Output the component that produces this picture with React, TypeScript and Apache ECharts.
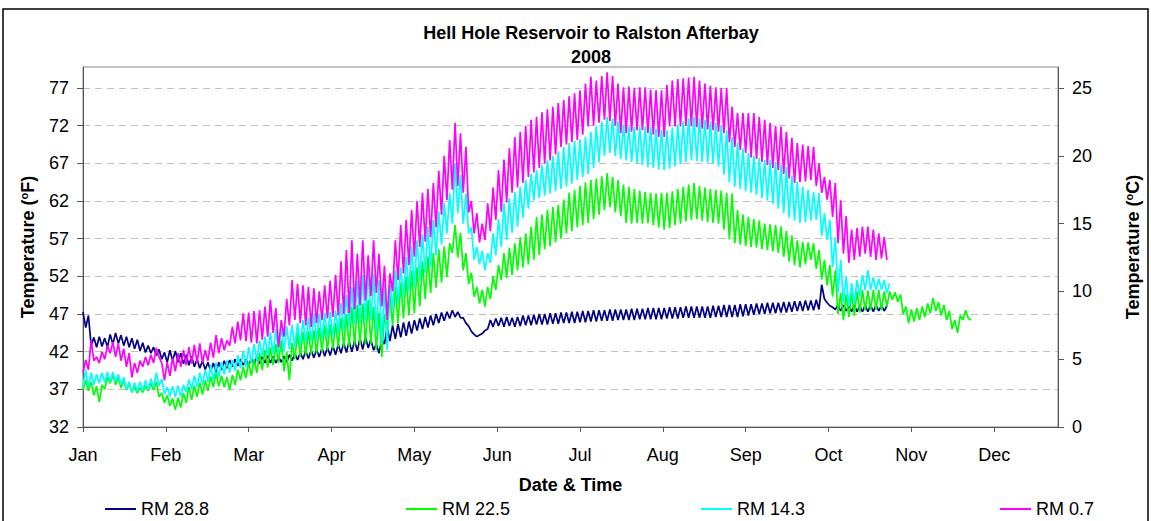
import React, { useEffect, useRef } from "react";
import * as echarts from "echarts";

// ---------- data (°F, one value per day from Jan 1) ----------
const SERIES_NAMES = ["RM 28.8", "RM 22.5", "RM 14.3", "RM 0.7"];
const SERIES_COLORS = ["#000080", "#00FF00", "#00FFFF", "#FF00FF"];
const MONTHS = ["Jan", "Feb", "Mar", "Apr", "May", "Jun", "Jul", "Aug", "Sep", "Oct", "Nov", "Dec"];
const MONTH_TICKS = [0, 30.5, 61, 91.5, 122, 152.5, 183, 213.5, 244, 274.5, 305, 335.5];
const F_TICKS = [32, 37, 42, 47, 52, 57, 62, 67, 72, 77];
const C_TICKS = [0, 5, 10, 15, 20, 25];

const RM_28_8 = [
  47.3, 45.2, 46.8, 42.8, 43.9, 42.6, 44.0, 42.7, 43.8, 42.6,
  44.3, 43.0, 44.5, 43.1, 44.2, 42.8, 44.0, 42.6, 43.8, 42.4,
  43.6, 42.1, 43.2, 41.9, 42.8, 41.8, 42.6, 41.5, 42.3, 41.0,
  41.9, 40.6, 42.2, 40.8, 42.1, 40.6, 41.8, 40.4, 41.6, 40.2,
  41.4, 40.0, 41.0, 39.8, 40.8, 39.6, 40.6, 39.4, 40.5, 39.3,
  40.6, 39.6, 40.8, 39.8, 40.9, 40.0, 41.0, 40.1, 41.0, 40.2,
  41.0, 40.2, 41.1, 40.3, 41.3, 40.4, 41.4, 40.5, 41.5, 40.5,
  41.4, 40.5, 41.3, 40.6, 41.4, 40.6, 41.6, 40.8, 41.8, 40.9,
  41.9, 41.0, 42.1, 41.1, 42.2, 41.2, 42.3, 41.3, 42.5, 41.4,
  42.6, 41.5, 42.8, 41.6, 43.0, 41.8, 43.2, 41.9, 43.4, 42.0,
  43.5, 42.1, 43.8, 42.3, 44.0, 42.5, 43.6, 42.2, 43.0, 41.8,
  43.6, 43.0, 45.3, 43.4, 45.5, 43.7, 45.7, 43.9, 45.9, 44.1,
  46.0, 44.4, 46.2, 44.8, 46.4, 45.0, 46.6, 45.2, 46.8, 45.5,
  47.0, 45.8, 47.2, 46.1, 47.3, 46.4, 47.5, 46.6, 47.3, 46.5,
  46.5, 45.8, 45.4, 44.7, 44.3, 44.0, 44.2, 44.4, 44.8, 45.0,
  46.2, 45.3, 46.4, 45.4, 46.5, 45.3, 46.6, 45.4, 46.5, 45.3,
  46.6, 45.4, 46.8, 45.5, 46.8, 45.5, 46.9, 45.6, 47.0, 45.6,
  47.0, 45.6, 47.1, 45.7, 47.1, 45.7, 47.2, 45.8, 47.2, 45.8,
  47.3, 45.8, 47.3, 45.9, 47.4, 45.9, 47.4, 46.0, 47.5, 46.0,
  47.5, 46.1, 47.5, 46.1, 47.6, 46.1, 47.6, 46.2, 47.6, 46.2,
  47.6, 46.2, 47.7, 46.2, 47.7, 46.3, 47.7, 46.3, 47.8, 46.3,
  47.8, 46.3, 47.8, 46.3, 47.8, 46.4, 47.9, 46.4, 47.9, 46.4,
  47.9, 46.5, 48.0, 46.5, 48.0, 46.5, 48.0, 46.5, 48.0, 46.5,
  48.0, 46.5, 48.1, 46.6, 48.1, 46.6, 48.2, 46.6, 48.2, 46.6,
  48.2, 46.6, 48.3, 46.7, 48.3, 46.8, 48.3, 46.9, 48.4, 47.0,
  48.4, 47.0, 48.5, 47.1, 48.5, 47.1, 48.5, 47.2, 48.6, 47.2,
  48.6, 47.3, 48.7, 47.4, 48.7, 47.4, 48.8, 47.5, 48.8, 47.5,
  48.9, 47.6, 50.9, 49.0, 48.5, 48.1, 47.9, 47.6, 48.2, 47.4,
  48.2, 47.4, 48.1, 47.3, 48.2, 47.3, 48.1, 47.3, 48.2, 47.3,
  48.2, 47.3, 48.2, 47.4, 48.2, 47.4, 48.1,
];

const RM_22_5 = [
  36.9, 38.2, 36.8, 38.0, 36.2, 37.4, 35.3, 37.6, 37.0, 38.6,
  37.8, 38.9, 37.6, 38.6, 37.2, 38.2, 36.9, 37.8, 36.6, 37.4,
  36.5, 37.2, 36.6, 37.5, 36.8, 37.8, 36.9, 38.0, 36.0, 36.5,
  35.2, 36.2, 34.8, 35.8, 34.3, 35.9, 34.6, 36.5, 35.2, 37.3,
  35.6, 37.5, 36.0, 37.9, 36.3, 38.2, 36.8, 38.7, 37.3, 39.2,
  37.4, 38.8, 37.3, 38.6, 36.9, 38.9, 37.6, 39.6, 38.2, 40.0,
  38.5, 40.6, 38.8, 41.0, 39.2, 41.8, 39.6, 42.2, 39.9, 42.6,
  40.2, 43.0, 40.5, 43.5, 39.4, 42.0, 38.2, 43.2, 41.0, 44.5,
  41.3, 44.6, 41.5, 44.7, 41.7, 44.8, 41.8, 45.2, 42.0, 45.5,
  42.2, 45.6, 42.4, 45.8, 42.6, 46.5, 42.6, 47.0, 42.6, 48.0,
  42.8, 48.2, 43.0, 48.4, 43.0, 48.9, 43.0, 48.0, 42.2, 47.2,
  41.3, 47.0, 44.5, 49.5, 45.5, 50.6, 45.8, 51.2, 46.4, 52.0,
  46.8, 52.8, 47.1, 53.2, 48.0, 54.0, 49.0, 54.6, 49.8, 55.1,
  50.5, 55.6, 51.2, 56.0, 51.9, 56.4, 55.1, 58.8, 54.5, 57.8,
  52.8, 55.1, 51.0, 52.5, 49.3, 50.6, 48.4, 50.2, 48.0, 50.6,
  49.0, 52.0, 50.2, 53.5, 51.5, 55.1, 51.8, 55.8, 52.2, 56.4,
  52.8, 57.2, 53.2, 57.7, 53.6, 58.6, 54.2, 59.9, 54.8, 60.2,
  55.6, 60.8, 56.0, 61.2, 56.5, 61.5, 57.0, 62.2, 57.7, 63.1,
  58.0, 63.5, 58.5, 64.0, 58.8, 64.5, 59.1, 64.8, 59.6, 65.0,
  60.2, 65.3, 60.8, 65.7, 61.2, 65.2, 60.5, 64.8, 60.0, 64.2,
  59.1, 63.9, 59.0, 63.6, 59.1, 63.4, 59.0, 63.2, 59.1, 63.1,
  58.8, 63.0, 58.5, 63.1, 58.2, 63.1, 58.4, 63.3, 58.8, 63.6,
  59.0, 63.9, 59.3, 64.2, 59.5, 64.4, 59.6, 64.0, 59.4, 63.8,
  59.2, 63.6, 59.1, 63.5, 59.0, 63.4, 58.2, 63.1, 56.9, 63.0,
  56.4, 60.8, 56.2, 60.2, 56.0, 59.9, 55.9, 59.6, 55.8, 59.4,
  55.6, 59.0, 55.5, 58.9, 55.3, 58.8, 55.1, 58.6, 54.6, 58.0,
  54.0, 57.4, 53.5, 56.8, 53.2, 56.6, 53.6, 56.5, 54.2, 56.4,
  53.0, 55.5, 51.6, 54.2, 50.8, 53.5, 49.3, 52.8, 47.0, 49.8,
  46.2, 49.6, 46.6, 49.8, 46.8, 50.0, 47.2, 50.2, 47.5, 50.1,
  47.5, 50.2, 47.6, 50.2, 47.5, 50.0, 48.0, 50.0, 48.9, 49.9,
  48.6, 49.6, 47.0, 48.0, 45.8, 47.6, 46.0, 47.8, 46.2, 48.0,
  46.6, 48.4, 47.1, 49.1, 47.4, 48.6, 46.8, 48.2, 46.2, 47.4,
  45.0, 46.2, 44.5, 46.8, 46.2, 47.5, 46.4, 46.2,
];

const RM_14_3 = [
  37.4, 39.6, 37.3, 39.2, 37.6, 39.0, 37.8, 39.2, 37.9, 39.3,
  38.0, 39.3, 38.0, 39.0, 37.6, 38.6, 37.0, 38.0, 36.6, 37.9,
  36.7, 38.0, 36.8, 38.2, 36.9, 38.4, 37.2, 39.2, 37.5, 38.4,
  36.4, 37.3, 36.0, 37.4, 36.0, 37.5, 36.0, 37.6, 36.6, 38.3,
  37.0, 38.8, 37.3, 39.2, 37.6, 39.6, 38.0, 40.2, 38.2, 40.5,
  38.6, 40.6, 39.0, 40.8, 39.2, 40.9, 39.5, 41.5, 39.8, 42.1,
  40.0, 42.6, 40.4, 43.0, 40.8, 43.5, 41.3, 44.0, 41.5, 44.6,
  41.7, 45.0, 41.8, 45.3, 42.0, 45.4, 42.3, 45.6, 42.6, 45.8,
  42.9, 46.2, 43.2, 46.6, 43.4, 47.1, 43.5, 47.1, 43.7, 47.2,
  43.9, 47.3, 44.0, 47.5, 44.4, 48.5, 44.8, 49.6, 45.3, 50.6,
  45.6, 51.4, 45.8, 52.2, 46.0, 53.0, 46.2, 52.4, 44.5, 51.5,
  43.0, 51.0, 42.2, 51.6, 47.5, 52.8, 48.4, 53.2, 49.2, 54.6,
  50.0, 56.0, 50.6, 56.8, 51.5, 57.6, 52.4, 58.6, 53.2, 59.5,
  54.8, 60.6, 56.2, 61.8, 57.7, 63.1, 59.0, 67.0, 60.4, 65.5,
  59.0, 63.0, 57.7, 58.5, 54.2, 55.9, 53.6, 55.4, 52.8, 55.1,
  53.8, 57.7, 54.8, 59.6, 55.9, 61.7, 56.8, 62.4, 57.8, 63.2,
  58.6, 63.9, 59.8, 64.8, 61.0, 65.6, 62.1, 66.1, 62.4, 66.8,
  62.7, 67.4, 63.0, 68.0, 63.3, 68.6, 63.6, 69.2, 63.9, 69.7,
  64.3, 70.0, 64.8, 70.2, 65.2, 70.5, 65.6, 71.2, 66.4, 72.0,
  67.2, 72.6, 68.0, 73.2, 68.4, 73.0, 68.0, 72.6, 67.6, 72.2,
  67.4, 71.9, 67.2, 71.9, 67.0, 71.9, 66.8, 71.9, 66.5, 71.9,
  66.4, 71.6, 66.2, 71.5, 66.1, 71.4, 66.3, 71.8, 66.6, 72.2,
  66.9, 72.6, 67.2, 73.0, 67.4, 73.2, 67.3, 73.0, 67.2, 72.8,
  67.1, 72.6, 67.0, 72.4, 66.6, 72.0, 65.5, 71.4, 64.5, 70.5,
  63.9, 69.8, 63.6, 69.0, 63.3, 68.4, 63.1, 68.0, 62.8, 67.7,
  62.4, 67.5, 62.1, 67.4, 61.6, 67.2, 61.0, 66.8, 60.4, 66.5,
  59.8, 65.4, 59.4, 64.6, 59.1, 63.9, 59.2, 63.5, 59.4, 63.2,
  59.5, 63.1, 57.4, 60.4, 56.8, 59.5, 53.2, 57.2, 49.8, 54.2,
  48.5, 52.0, 48.0, 51.1, 48.4, 51.5, 49.4, 52.2, 50.2, 52.8,
  50.2, 51.9, 50.2, 51.7, 50.2, 51.5, 49.8, 51.1,
];

const RM_0_7 = [
  39.2, 40.9, 39.6, 43.5, 40.8, 41.3, 40.5, 42.0, 41.0, 42.8,
  41.8, 43.3, 41.3, 43.1, 40.8, 42.4, 40.0, 41.8, 38.6, 40.5,
  39.2, 40.8, 40.0, 41.3, 40.2, 41.6, 40.5, 42.5, 41.3, 40.5,
  38.2, 40.6, 38.8, 41.2, 39.4, 41.8, 40.0, 42.2, 40.2, 42.6,
  40.4, 42.9, 40.5, 43.1, 40.5, 42.2, 40.8, 43.2, 41.2, 44.2,
  41.8, 43.8, 42.2, 43.5, 42.8, 45.3, 43.1, 46.0, 43.5, 47.1,
  43.4, 47.2, 43.2, 47.4, 43.1, 47.5, 43.6, 48.0, 44.0, 48.9,
  44.5, 47.8, 42.6, 46.2, 44.0, 49.0, 45.5, 51.5, 46.2, 51.0,
  45.8, 50.8, 45.5, 50.6, 45.3, 50.4, 45.8, 50.0, 46.2, 50.8,
  46.4, 51.4, 46.6, 52.2, 46.8, 54.0, 47.0, 55.5, 47.1, 56.8,
  47.6, 55.0, 48.2, 56.8, 48.8, 54.8, 49.4, 56.8, 49.8, 55.0,
  48.0, 53.4, 46.2, 52.4, 50.0, 56.8, 51.5, 58.8, 52.4, 59.5,
  53.5, 60.8, 54.6, 62.0, 55.9, 63.1, 56.6, 63.6, 57.2, 64.4,
  58.5, 66.0, 60.2, 68.0, 62.1, 70.1, 63.5, 72.4, 64.0, 71.0,
  63.1, 69.2, 60.5, 62.0, 57.7, 60.4, 56.5, 59.0, 56.8, 61.7,
  58.0, 63.8, 59.5, 66.1, 60.6, 67.5, 61.8, 69.0, 63.1, 70.5,
  63.8, 71.2, 64.4, 72.0, 65.2, 72.8, 65.8, 73.2, 66.4, 73.8,
  67.0, 74.2, 67.4, 74.5, 68.2, 75.0, 69.2, 75.4, 69.5, 75.9,
  69.8, 76.3, 70.1, 76.7, 70.8, 77.6, 71.9, 78.5, 72.0, 78.0,
  72.4, 78.6, 72.8, 79.1, 72.6, 78.6, 72.0, 77.6, 71.0, 77.1,
  71.0, 77.2, 71.2, 77.0, 71.4, 77.1, 71.4, 77.1, 71.0, 76.8,
  70.8, 76.7, 70.5, 76.7, 70.5, 77.4, 71.9, 78.0, 71.9, 78.2,
  71.9, 78.3, 72.0, 78.4, 71.9, 78.5, 71.8, 78.0, 71.6, 77.6,
  71.5, 77.3, 71.4, 77.1, 71.2, 77.0, 71.0, 77.0, 69.8, 74.5,
  69.2, 73.7, 68.8, 73.7, 68.4, 73.7, 67.8, 73.7, 67.6, 73.2,
  67.2, 72.8, 66.8, 72.4, 66.4, 72.0, 66.1, 71.9, 65.6, 71.2,
  65.0, 70.4, 64.4, 69.7, 64.5, 69.5, 64.6, 69.3, 64.8, 69.2,
  64.0, 67.0, 63.1, 65.2, 62.2, 64.8, 59.9, 64.4, 56.4, 62.1,
  55.0, 60.0, 53.8, 58.2, 54.2, 58.4, 54.6, 58.6, 55.0, 58.6,
  54.6, 58.2, 54.2, 57.7, 54.4, 57.2, 54.2,
];

const SERIES_VALUES = [RM_28_8, RM_22_5, RM_14_3, RM_0_7];

// ---------- layout ----------
const FONT = 'Arial, "Liberation Sans", sans-serif';
const X_MAX = 359;
const F_MIN = 32;
const F_MAX = 79.8;
const LEGEND_LEFT = [105, 406, 701, 1000];

export default function App() {
  const ref = useRef<HTMLDivElement>(null);

  useEffect(() => {
    if (!ref.current) return;
    const chart = echarts.init(ref.current, null, { renderer: "svg" });

    const nameRich = {
      sup: { fontSize: 11, fontWeight: "bold", fontFamily: FONT, color: "#000", padding: [0, 0, 9, 0] },
    };

    chart.setOption({
      animation: false,
      backgroundColor: "#fff",
      title: {
        text: "Hell Hole Reservoir to Ralston Afterbay\n2008",
        left: 591,
        top: 21,
        padding: 0,
        textAlign: "center",
        textStyle: { fontSize: 18, fontWeight: "bold", fontFamily: FONT, color: "#000", lineHeight: 24 },
      },
      grid: {
        left: 83,
        right: 93,
        top: 67,
        bottom: 94,
        show: true,
        borderColor: "#888",
        borderWidth: 1,
        backgroundColor: "transparent",
      },
      legend: SERIES_NAMES.map((n, i) => ({
        data: [n],
        left: LEGEND_LEFT[i],
        top: 500,
        padding: 0,
        itemGap: 0,
        icon: "rect",
        itemWidth: 31,
        itemHeight: 2,
        selectedMode: false,
        textStyle: { fontSize: 18, fontFamily: FONT, color: "#000" },
      })),
      xAxis: {
        type: "value",
        min: 0,
        max: X_MAX,
        name: "Date & Time",
        nameLocation: "middle",
        nameGap: 49,
        nameTextStyle: { fontSize: 18, fontWeight: "bold", fontFamily: FONT, color: "#000" },
        splitLine: { show: false },
        axisLine: { show: true, lineStyle: { color: "#555", width: 1 } },
        axisTick: { show: true, length: 5, customValues: MONTH_TICKS, lineStyle: { color: "#555" } },
        axisLabel: {
          customValues: MONTH_TICKS,
          margin: 19,
          fontSize: 18,
          fontFamily: FONT,
          color: "#000",
          formatter: (v: number) => {
            const i = MONTH_TICKS.findIndex((t) => Math.abs(t - v) < 0.01);
            return i >= 0 ? MONTHS[i] : "";
          },
        },
      },
      yAxis: [
        {
          type: "value",
          position: "left",
          min: F_MIN,
          max: F_MAX,
          interval: 5,
          name: "Temperature ({sup|o}F)",
          nameLocation: "middle",
          nameRotate: 90,
          nameGap: 45,
          nameTextStyle: { fontSize: 18, fontWeight: "bold", fontFamily: FONT, color: "#000", rich: nameRich },
          axisLine: { show: true, lineStyle: { color: "#555", width: 1 } },
          axisTick: { show: true, length: 6, customValues: F_TICKS, lineStyle: { color: "#555" } },
          axisLabel: { customValues: F_TICKS, margin: 14, fontSize: 18, fontFamily: FONT, color: "#000" },
          splitLine: { show: true, lineStyle: { color: "#c0c0c0", type: [7, 5], width: 1 } },
        },
        {
          type: "value",
          position: "right",
          min: 0,
          max: (F_MAX - F_MIN) / 1.8,
          interval: 5,
          name: "Temperature ({sup|o}C)",
          nameLocation: "middle",
          nameRotate: 90,
          nameGap: 65,
          nameTextStyle: { fontSize: 18, fontWeight: "bold", fontFamily: FONT, color: "#000", rich: nameRich },
          axisLine: { show: true, lineStyle: { color: "#555", width: 1 } },
          axisTick: { show: true, length: 6, customValues: C_TICKS, lineStyle: { color: "#555" } },
          axisLabel: { customValues: C_TICKS, margin: 14, fontSize: 18, fontFamily: FONT, color: "#000" },
          splitLine: { show: false },
        },
      ],
      graphic: [
        {
          type: "rect",
          shape: { x: 3, y: 9, width: 1145, height: 530 },
          style: { fill: "none", stroke: "#000", lineWidth: 1.5 },
          silent: true,
        },
      ],
      series: SERIES_NAMES.map((n, i) => ({
        name: n,
        type: "line",
        yAxisIndex: 0,
        data: SERIES_VALUES[i].map((v, d) => [d, v]),
        showSymbol: false,
        symbol: "none",
        lineStyle: { color: SERIES_COLORS[i], width: 1.7 },
        itemStyle: { color: SERIES_COLORS[i] },
        emphasis: { disabled: true },
        z: 2 + i,
      })),
    });

    return () => chart.dispose();
  }, []);

  return (
    <div
      ref={ref}
      style={{ position: "absolute", left: 0, top: 0, width: 1151, height: 521 }}
    />
  );
}
